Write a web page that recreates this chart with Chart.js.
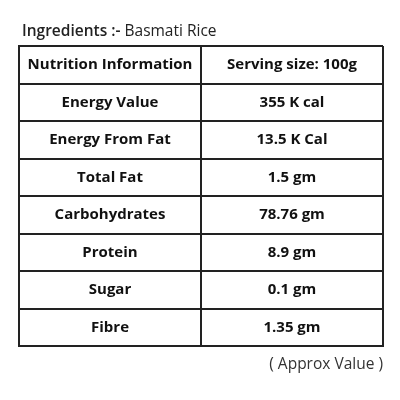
<!DOCTYPE html>
<html><head><meta charset="utf-8">
<script src="https://cdn.jsdelivr.net/npm/chart.js@4/dist/chart.umd.min.js"></script>
<style>
html,body{margin:0;padding:0;background:#fff;width:400px;height:400px;overflow:hidden;font-family:"Open Sans",sans-serif;}
#wrap{position:absolute;left:0;top:0;width:400px;height:400px;}
#title{position:absolute;left:22px;top:19px;font-size:15.5px;color:#222;}
#title b{font-weight:600;}
#foot{position:absolute;right:17px;top:352px;font-size:15.5px;color:#333;}
</style></head><body>
<div id="wrap"><canvas id="c" width="400" height="400"></canvas></div>
<div id="title"><b>Ingredients :-</b> Basmati Rice</div>
<div id="foot">( Approx Value )</div>
<script>
const headers = ["Nutrition Information", "Serving size: 100g"];
const nutrients = ["Energy Value","Energy From Fat","Total Fat","Carbohydrates","Protein","Sugar","Fibre"];
const amounts = ["355 K cal","13.5 K Cal","1.5 gm","78.76 gm","8.9 gm","0.1 gm","1.35 gm"];

const cellText = {
  id:'cellText',
  afterDatasetsDraw(chart){
    const {ctx, scales:{x,y}} = chart;
    ctx.save();
    ctx.fillStyle='#111';
    ctx.textAlign='center';ctx.textBaseline='middle';
    ctx.font='bold 15px "Open Sans", sans-serif';
    headers.forEach((h,i)=>ctx.fillText(h, x.getPixelForValue(i+0.5), y.getPixelForValue(0.5)));
    nutrients.forEach((n,i)=>{
      ctx.fillText(n, x.getPixelForValue(0.5), y.getPixelForValue(i+1.5));
      ctx.fillText(amounts[i], x.getPixelForValue(1.5), y.getPixelForValue(i+1.5));
    });
    ctx.restore();
  }
};

new Chart(document.getElementById('c'),{
  type:'scatter',
  data:{datasets:[{data:[],pointRadius:0}]},
  options:{
    responsive:false,animation:false,
    layout:{padding:{left:19,right:17,top:46,bottom:54}},
    plugins:{legend:{display:false},tooltip:{enabled:false}},
    scales:{
      x:{type:'linear',min:0,max:2,ticks:{display:false,stepSize:1},
         grid:{color:'#222',lineWidth:2,drawTicks:false},border:{color:'#222',width:2}},
      y:{type:'linear',min:0,max:8,reverse:true,ticks:{display:false,stepSize:1},
         grid:{color:'#222',lineWidth:2,drawTicks:false},border:{color:'#222',width:2}}
    }
  },
  plugins:[cellText]
});
</script>
</body></html>
